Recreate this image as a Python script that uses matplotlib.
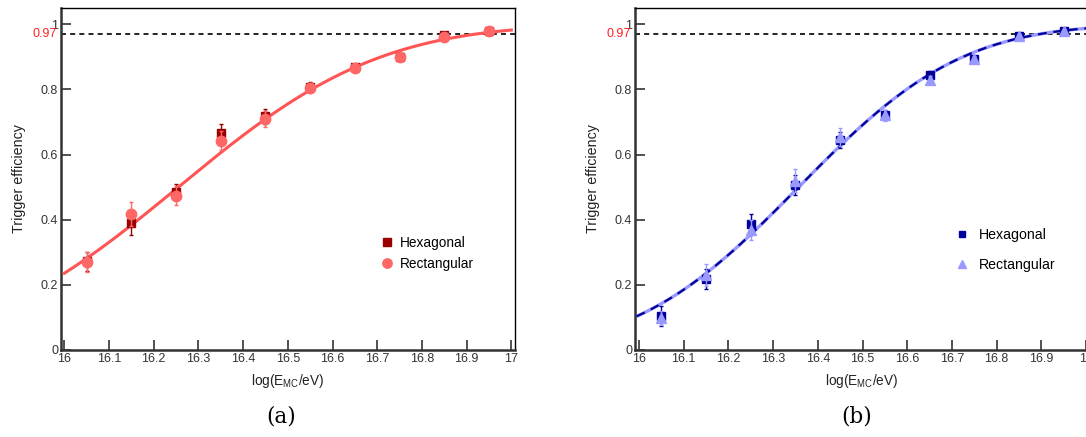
import matplotlib
matplotlib.use("Agg")
import matplotlib.pyplot as plt
import numpy as np
from math import erf, sqrt

plt.rcParams['font.family'] = ['Liberation Sans', 'DejaVu Sans']
plt.rcParams['mathtext.fontset'] = 'custom'
plt.rcParams['mathtext.rm'] = 'Liberation Sans'

# energy bins (log10 E/eV)
log_e = [16.05, 16.15, 16.25, 16.35, 16.45, 16.55, 16.65, 16.75, 16.85, 16.95]

# panel (a)
hex_a = [0.272, 0.389, 0.486, 0.666, 0.717, 0.808, 0.868, 0.900, 0.968, 0.980]
hex_a_err = [0.030, 0.035, 0.025, 0.028, 0.022, 0.014, 0.010, 0.008, 0.005, 0.004]
rect_a = [0.271, 0.417, 0.474, 0.643, 0.710, 0.805, 0.865, 0.899, 0.962, 0.980]
rect_a_err = [0.030, 0.036, 0.028, 0.028, 0.024, 0.015, 0.010, 0.008, 0.005, 0.004]
fit_a = (16.255, 0.354)   # mean, width of the erf fit

# panel (b)
hex_b = [0.104, 0.218, 0.386, 0.507, 0.645, 0.722, 0.845, 0.893, 0.965, 0.980]
hex_b_err = [0.030, 0.032, 0.032, 0.030, 0.025, 0.015, 0.012, 0.008, 0.005, 0.004]
rect_b = [0.098, 0.230, 0.369, 0.520, 0.655, 0.720, 0.830, 0.893, 0.965, 0.980]
rect_b_err = [0.022, 0.035, 0.030, 0.035, 0.028, 0.016, 0.012, 0.009, 0.005, 0.004]
fit_b = (16.357, 0.287)

threshold = 0.97


def fit_curve(x, mu, sigma):
    return np.array([0.5 * (1 + erf((v - mu) / (sigma * sqrt(2)))) for v in x])


def style_axes(ax, xmin):
    ax.set_xlim(xmin, xmin + 454 / 447)
    ax.set_ylim(0, 1.05)
    ax.set_xticks(np.arange(16, 17.01, 0.1))
    ax.set_xticklabels(['16', '16.1', '16.2', '16.3', '16.4', '16.5', '16.6', '16.7', '16.8', '16.9', '17'])
    ax.set_yticks([0, 0.2, 0.4, 0.6, 0.8, 1])
    ax.set_yticklabels(['0', '0.2', '0.4', '0.6', '0.8', '1'])
    ax.tick_params(direction='in', length=7, width=1.2, colors='#333333', labelsize=9, pad=2)
    for s in ['left', 'bottom']:
        ax.spines[s].set_linewidth(1.8)
        ax.spines[s].set_color('#333333')
    for s in ['top', 'right']:
        ax.spines[s].set_linewidth(1.0)
    ax.axhline(threshold, color='black', lw=1.2, ls=(0, (3, 2.5)), zorder=1)
    ax.text(-0.008, threshold, '0.97', color='#ff2020', fontsize=9,
            transform=ax.get_yaxis_transform(), ha='right', va='center')
    ax.set_ylabel('Trigger efficiency', fontsize=10.3, color='#222222', labelpad=11)
    ax.set_xlabel(r'log(E$_{\mathregular{MC}}$/eV)', fontsize=9.8, color='#222222', labelpad=5)


fig = plt.figure(figsize=(10.86, 4.37), dpi=100)
ax1 = fig.add_axes([61 / 1086, 87 / 437, 454 / 1086, 342 / 437])
ax2 = fig.add_axes([635 / 1086, 87 / 437, 454 / 1086, 342 / 437])

xs1 = np.linspace(16.0, 17.0, 200)
xs2 = np.linspace(15.995, 17.01, 200)

# (a)
style_axes(ax1, 15.9926)
ax1.plot(xs1, fit_curve(xs1, *fit_a), color='#990000', lw=1.0, zorder=2)
ax1.plot(xs1, fit_curve(xs1, *fit_a), color='#ff5555', lw=2.2, zorder=3)
ax1.errorbar(log_e, hex_a, yerr=hex_a_err, fmt='s', color='#990000', ms=6,
             elinewidth=1, capsize=1.5, label='Hexagonal', zorder=4)
ax1.errorbar(log_e, rect_a, yerr=rect_a_err, fmt='o', color='#ff6666', ms=7.5,
             elinewidth=1, capsize=1.5, label='Rectangular', zorder=5)
h, l = ax1.get_legend_handles_labels()
h = [x[0] for x in h]
ax1.legend(h, l, loc='upper left', bbox_to_anchor=(0.68, 0.37), frameon=False,
           fontsize=9.8, handlelength=0.8, handletextpad=0.55, labelspacing=0.5,
           markerscale=0.9)

# (b)
style_axes(ax2, 15.991)
ax2.plot(xs2, fit_curve(xs2, *fit_b), color='#9999ff', lw=2.4, zorder=2)
ax2.plot(xs2, fit_curve(xs2, *fit_b), color='#000099', lw=1.6, ls=(0, (4, 3)), zorder=3)
ax2.errorbar(log_e, hex_b, yerr=hex_b_err, fmt='s', color='#000099', ms=5.5,
             elinewidth=1, capsize=1.5, label='Hexagonal', zorder=4)
ax2.errorbar(log_e, rect_b, yerr=rect_b_err, fmt='^', color='#9999ff', ms=7,
             elinewidth=1, capsize=1.5, label='Rectangular', zorder=5)
h, l = ax2.get_legend_handles_labels()
h = [x[0] for x in h]
ax2.legend(h, l, loc='upper left', bbox_to_anchor=(0.68, 0.395), frameon=False,
           fontsize=10.2, handlelength=0.8, handletextpad=0.75, labelspacing=1.15,
           markerscale=0.9)

fig.text(281 / 1086, 1 - 416 / 437, '(a)', fontsize=15.5, family='DejaVu Serif',
         ha='center', va='center')
fig.text(857 / 1086, 1 - 416 / 437, '(b)', fontsize=15.5, family='DejaVu Serif',
         ha='center', va='center')

fig.savefig('out.png', dpi=100)
